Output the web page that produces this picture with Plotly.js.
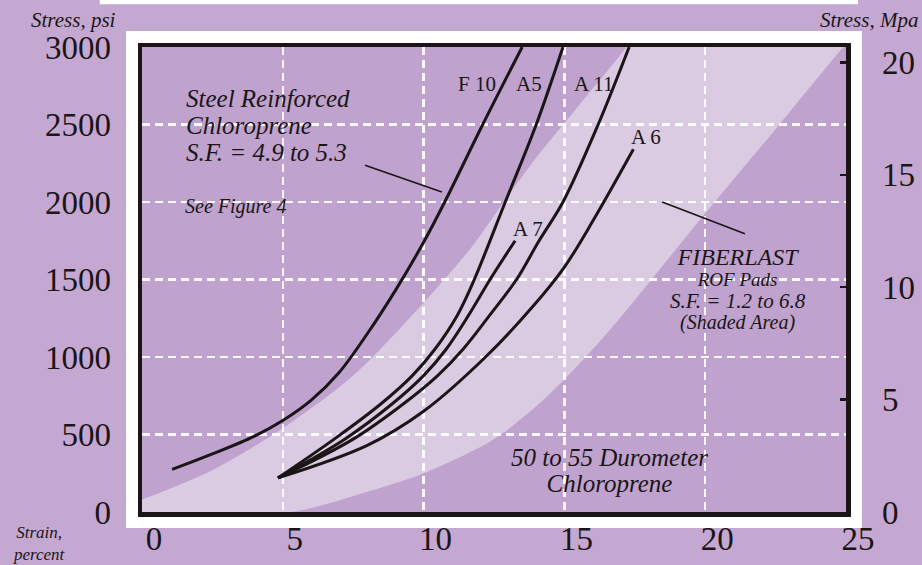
<!DOCTYPE html>
<html><head><meta charset="utf-8">
<script src="https://cdn.plot.ly/plotly-3.0.1.min.js"></script>
<style>html,body{margin:0;padding:0;background:#c4a8d2;}#chart{width:922px;height:565px;}</style>
</head><body><div id="chart"></div>
<script>
// ---- axis ticks ----
const strainTicks = [0, 5, 10, 15, 20, 25];
const psiTicks = [0, 500, 1000, 1500, 2000, 2500, 3000];
const mpaTicks = [0, 5, 10, 15, 20];

// ---- curve labels ----
const curveNames = ['F 10', 'A5', 'A 7', 'A 11', 'A 6'];

// ---- steel reinforced chloroprene curves (strain %, stress psi) ----
const f10Strain = [1.07, 2.5, 4.0, 5.0, 6.0, 7.0, 8.0, 9.0, 10.0, 10.75, 12.1, 13.5];
const f10Stress = [275, 375, 490, 590, 720, 900, 1150, 1430, 1740, 2000, 2500, 3000];
const a5Strain = [4.83, 6.9, 8.5, 9.6, 10.4, 11.2, 11.8, 12.9, 14.0, 14.95];
const a5Stress = [220, 480, 700, 880, 1050, 1270, 1500, 2000, 2500, 3000];
const a7Strain = [4.83, 7.2, 8.9, 10.0, 10.8, 11.6, 12.36, 13.25];
const a7Stress = [220, 470, 700, 880, 1050, 1270, 1500, 1750];
const a11Strain = [4.83, 7.5, 9.3, 10.5, 11.4, 12.35, 13.3, 14.1, 14.95, 16.2, 17.3];
const a11Stress = [220, 470, 700, 880, 1050, 1270, 1500, 1750, 2000, 2500, 3000];
const a6Strain = [4.83, 8.0, 10.0, 12.2, 13.9, 15.0, 16.05, 17.45];
const a6Stress = [220, 430, 650, 1000, 1330, 1580, 1890, 2340];

// ---- FIBERLAST shaded area boundaries ----
const bandUpperStrain = [0, 2.5, 5, 7.5, 10, 11.75, 13, 14.1, 15.5, 17.2, 17.9];
const bandUpperStress = [80, 270, 540, 880, 1350, 1720, 2040, 2310, 2620, 3000, 3200];
const bandLowerStrain = [0, 5.3, 8, 10, 12.5, 14.3, 16.5, 19.7, 22.5, 25.0, 25.9];
const bandLowerStress = [0, 0, 130, 250, 470, 730, 1150, 1860, 2470, 3020, 3200];

const ink = '#1b1517';
const serif = '"Liberation Serif", "Times New Roman", serif';
const psiPerMpa = 145.038;

const curves = [
  [f10Strain, f10Stress], [a5Strain, a5Stress], [a7Strain, a7Stress],
  [a11Strain, a11Stress], [a6Strain, a6Stress]
];

const bandX = bandUpperStrain.concat(bandLowerStrain.slice().reverse());
const bandY = bandUpperStress.concat(bandLowerStress.slice().reverse());

const traces = [{
  type: 'scatter', mode: 'lines', x: bandX, y: bandY, fill: 'toself',
  fillcolor: 'rgba(255,255,255,0.43)', line: {width: 0, shape: 'spline', smoothing: 0.8},
  hoverinfo: 'skip', showlegend: false, name: 'FIBERLAST ROF Pads'
}];
curves.forEach((c, i) => traces.push({
  type: 'scatter', mode: 'lines', x: c[0], y: c[1], name: curveNames[i],
  line: {color: ink, width: 3, shape: 'spline', smoothing: 1}, showlegend: false
}));
traces.push({type: 'scatter', mode: 'lines', x: [], y: [], yaxis: 'y2', showlegend: false, hoverinfo: 'skip'});

function ann(text, x, y, size, opts) {
  return Object.assign({text: text, x: x, y: y, xref: 'x', yref: 'y', showarrow: false,
    font: {family: serif, size: size, color: ink}, xanchor: 'center', yanchor: 'middle'}, opts || {});
}
function pann(text, x, y, size, opts) {
  return ann(text, x, y, size, Object.assign({xref: 'paper', yref: 'paper'}, opts || {}));
}
function fs(px, t) { return '<span style="font-size:' + px + 'px">' + t + '</span>'; }

const annotations = [
  ann('<i>Steel Reinforced</i>', 1.5, 2665, 25, {xanchor: 'left'}),
  ann('<i>Chloroprene</i>', 1.5, 2494, 25, {xanchor: 'left'}),
  ann('<i>S.F. = 4.9 to 5.3</i>', 1.5, 2319, 25, {xanchor: 'left'}),
  ann('<i>See Figure 4</i>', 1.45, 1974, 20, {xanchor: 'left'}),
  ann(curveNames[0], 11.9, 2761, 21),
  ann(curveNames[1], 13.74, 2761, 21),
  ann(curveNames[3], 16.02, 2761, 21),
  ann(curveNames[4], 17.9, 2419, 21),
  ann(curveNames[2], 13.7, 1826, 21),
  ann('<i>' + fs(24, 'FIBERLAST') + '<br>' + fs(19, 'ROF Pads') + '<br>' + fs(21, 'S.F. = 1.2 to 6.8') +
      '<br>' + fs(20, '(Shaded Area)') + '</i>', 21.16, 1440, 16.5),
  ann('<i>' + fs(25, '50 to 55 Durometer') + '<br>' + fs(25, 'Chloroprene') + '</i>', 16.6, 268, 20),
  pann('<i>Stress, psi</i>', -0.097, 1.058, 21),
  pann('<i>Stress, Mpa</i>', 1.1051, 1.058, 21, {xanchor: 'right'}),
  pann('<i>Strain,<br>percent</i>', -0.1463, -0.068, 17)
];

const shapes = [
  {type: 'rect', xref: 'paper', yref: 'paper', x0: -0.0142, x1: 1.0142, y0: -0.0215, y1: 1.0215,
   line: {color: '#ffffff', width: 12}, fillcolor: 'rgba(0,0,0,0)', layer: 'below'},
  {type: 'rect', xref: 'paper', yref: 'paper', x0: -0.06, x1: 1.017, y0: 1.092, y1: 1.12,
   line: {width: 0}, fillcolor: '#ffffff', layer: 'below'},
  {type: 'line', xref: 'x', yref: 'y', x0: 7.92, y0: 2237, x1: 10.65, y1: 2064, line: {color: ink, width: 1.6}},
  {type: 'line', xref: 'x', yref: 'y', x0: 18.47, y0: 2000, x1: 21.41, y1: 1795, line: {color: ink, width: 1.6}}
];

const gridStyle = {showgrid: true, gridcolor: 'rgba(255,255,255,0.92)', gridwidth: 2.5, griddash: '8px,5px'};

const layout = {
  width: 922, height: 565,
  margin: {l: 142, r: 76, t: 47, b: 53, pad: 0},
  paper_bgcolor: '#c4a8d2', plot_bgcolor: '#bfa2cd',
  showlegend: false, font: {family: serif, color: ink},
  xaxis: Object.assign({range: [0, 25], tickvals: strainTicks, ticktext: strainTicks.map(String), ticks: '',
    showline: true, mirror: true, linecolor: ink, linewidth: 4.5, zeroline: false,
    tickfont: {family: serif, size: 33, color: ink}, ticklabelstandoff: -6, ticklabelshift: 12, fixedrange: true}, gridStyle),
  yaxis: Object.assign({range: [0, 3000], tickvals: psiTicks, ticktext: psiTicks.map(String), ticks: '',
    showline: true, mirror: true, linecolor: ink, linewidth: 4.5, zeroline: false,
    tickfont: {family: serif, size: 33, color: ink}, ticklabelstandoff: 20, fixedrange: true}, gridStyle),
  yaxis2: {overlaying: 'y', side: 'right', anchor: 'x', range: [0, 3000 / psiPerMpa], tickvals: mpaTicks,
    ticktext: mpaTicks.map(String), ticks: 'inside', ticklen: 6, tickwidth: 2.5, tickcolor: ink,
    showgrid: false, zeroline: false, showline: false,
    tickfont: {family: serif, size: 33, color: ink}, ticklabelstandoff: 35, fixedrange: true},
  annotations: annotations, shapes: shapes
};

Plotly.newPlot('chart', traces, layout, {staticPlot: true, displayModeBar: false});
</script></body></html>
